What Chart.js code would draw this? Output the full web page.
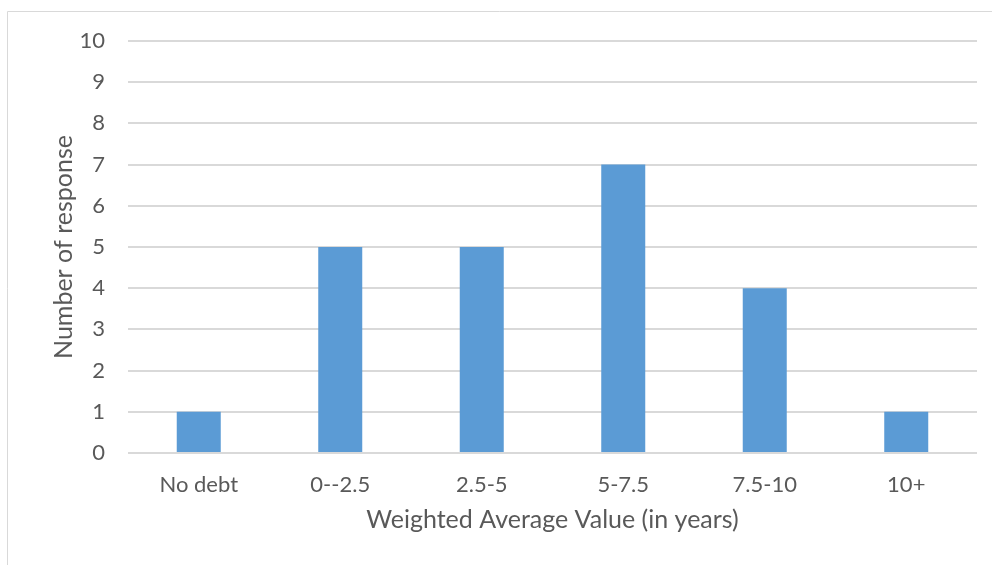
<!DOCTYPE html>
<html>
<head>
<meta charset="utf-8">
<script src="https://cdn.jsdelivr.net/npm/chart.js@4"></script>
<style>
  html, body { margin: 0; padding: 0; background: #ffffff; }
  #wrap { position: relative; width: 992px; height: 565px; }
</style>
</head>
<body>
<div id="wrap"><canvas id="chart" width="992" height="565"></canvas></div>
<script>
const categories = ['No debt', '0--2.5', '2.5-5', '5-7.5', '7.5-10', '10+'];
const responses = [1, 5, 5, 7, 4, 1];
const yTicks = [0, 1, 2, 3, 4, 5, 6, 7, 8, 9, 10];

const FONT = 'Lato, "Open Sans", sans-serif';
const TEXT = '#595959';
const GRID = '#d9d9d9';

// thin frame along the top and left edges of the chart box
const frame = {
  id: 'frame',
  beforeDraw(chart) {
    const ctx = chart.ctx;
    ctx.save();
    ctx.strokeStyle = GRID;
    ctx.lineWidth = 1;
    ctx.beginPath();
    ctx.moveTo(7.5, 565);
    ctx.lineTo(7.5, 11.5);
    ctx.lineTo(992, 11.5);
    ctx.stroke();
    ctx.restore();
  }
};

new Chart(document.getElementById('chart'), {
  type: 'bar',
  data: {
    labels: categories,
    datasets: [{
      label: 'Number of response',
      data: responses,
      backgroundColor: '#5b9bd5',
      borderWidth: 0,
      categoryPercentage: 1,
      barPercentage: 0.311
    }]
  },
  options: {
    responsive: false,
    animation: false,
    devicePixelRatio: 1,
    layout: { padding: { top: 41, right: 15, bottom: 26, left: 45 } },
    plugins: { legend: { display: false }, tooltip: { enabled: false } },
    scales: {
      x: {
        grid: { display: false, drawTicks: false },
        border: { display: false },
        ticks: { color: TEXT, font: { family: FONT, size: 22 }, padding: 19, maxRotation: 0 },
        title: { display: true, text: 'Weighted Average Value (in years)', color: TEXT, font: { family: FONT, size: 25 } },
        afterFit(scale) { scale.height = 86; }
      },
      y: {
        min: 0, max: 10,
        afterBuildTicks(scale) { scale.ticks = yTicks.map(v => ({ value: v })); },
        grid: { color: GRID, lineWidth: 2, drawTicks: false },
        border: { display: false },
        ticks: { color: TEXT, font: { family: FONT, size: 22 }, padding: 23 },
        title: { display: true, text: 'Number of response', color: TEXT, font: { family: FONT, size: 25 } },
        afterFit(scale) { scale.width = 83; }
      }
    }
  },
  plugins: [frame]
});
</script>
</body>
</html>
